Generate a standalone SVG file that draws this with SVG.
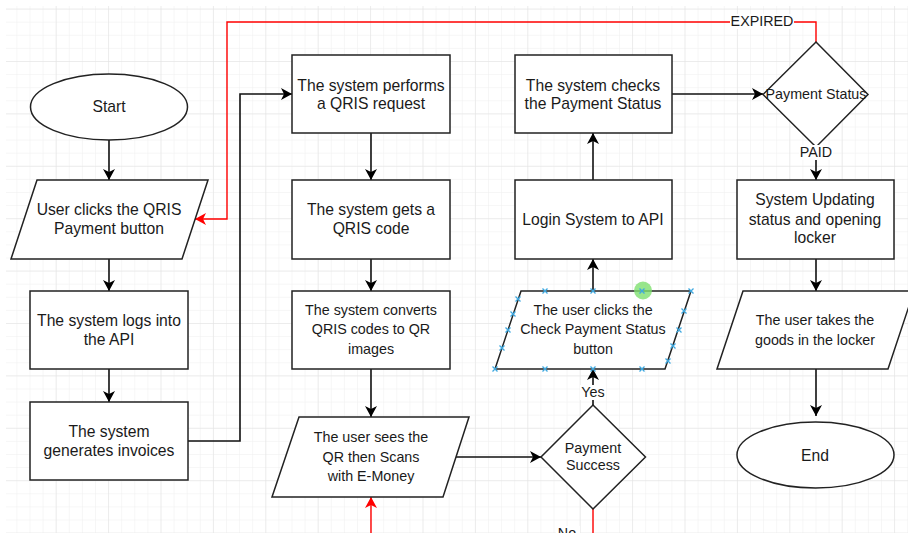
<svg xmlns="http://www.w3.org/2000/svg" width="908" height="533" viewBox="0 0 908 533">
<style>
text{font-family:"Liberation Sans",Arial,sans-serif;font-size:15.7px;fill:#1a1a1a;text-anchor:middle}
.s{font-size:14.3px}
.n{fill:#fff;stroke:#222;stroke-width:1.5}
.c{fill:none;stroke:#111;stroke-width:1.6}
.r{fill:none;stroke:#f00;stroke-width:1.4}
.x{stroke:#3fa9e0;stroke-width:1.3;fill:none}
</style>
<defs>
<pattern id="gm" x="3.3" y="8.6" width="13.1" height="13.1" patternUnits="userSpaceOnUse"><path d="M0 0V13.1M0 0H13.1" fill="none" stroke="#eeeeee" stroke-width="1"/></pattern>
<pattern id="gM" x="3.3" y="8.6" width="52.4" height="52.4" patternUnits="userSpaceOnUse"><path d="M0 0V52.4M0 0H52.4" fill="none" stroke="#e2e2e2" stroke-width="1"/></pattern>
<marker id="a" markerUnits="userSpaceOnUse" markerWidth="14" markerHeight="14" refX="11" refY="6" orient="auto"><path d="M0 0L11 6L0 12L3 6Z" fill="#000"/></marker>
<marker id="ar" markerUnits="userSpaceOnUse" markerWidth="14" markerHeight="14" refX="11" refY="6" orient="auto"><path d="M0 0L11 6L0 12L3 6Z" fill="#f00"/></marker>
<path id="m" d="M-2.500-2.500L2.500 2.500M-2.500 2.500L2.500-2.500" class="x"/>
</defs>
<rect width="908" height="533" fill="#fff"/>
<rect x="6" y="6" width="902" height="527" fill="url(#gm)"/>
<rect x="6" y="6" width="902" height="527" fill="url(#gM)"/>
<g id="connectors">
<path class="c" marker-end="url(#a)" d="M109 140V180"/>
<path class="c" marker-end="url(#a)" d="M109 259V291"/>
<path class="c" marker-end="url(#a)" d="M109 369V402"/>
<path class="c" marker-end="url(#a)" d="M188 441H240V94H292"/>
<path class="c" marker-end="url(#a)" d="M371 133V180"/>
<path class="c" marker-end="url(#a)" d="M371 259V291"/>
<path class="c" marker-end="url(#a)" d="M371 369V417"/>
<path class="c" marker-end="url(#a)" d="M456 457H541"/>
<path class="c" marker-end="url(#a)" d="M593 405V369"/>
<path class="c" marker-end="url(#a)" d="M593 291V259"/>
<path class="c" marker-end="url(#a)" d="M593 180V133"/>
<path class="c" marker-end="url(#a)" d="M672 94H763"/>
<path class="c" marker-end="url(#a)" d="M816 147V180"/>
<path class="c" marker-end="url(#a)" d="M816 259V291"/>
<path class="c" marker-end="url(#a)" d="M816 369V416"/>
<path class="r" marker-end="url(#ar)" d="M816 42V22H227V219H195"/>
<path class="r" marker-end="url(#ar)" d="M371 533V497"/>
<path class="r" d="M593 509V533"/>
</g>
<g id="start"><ellipse class="n" cx="109" cy="107" rx="78.500" ry="33"/><text x="109" y="112">Start</text></g>
<g id="click-qris"><path class="n" d="M37 180H208L182 259H11Z"/><text x="109" y="215">User clicks the QRIS</text><text x="109" y="233.500">Payment button</text></g>
<g id="logs-api"><rect class="n" x="30" y="291" width="158" height="78"/><text x="109" y="325.500">The system logs into</text><text x="109" y="344.500">the API</text></g>
<g id="invoices"><rect class="n" x="30" y="402" width="158" height="78"/><text x="109" y="437">The system</text><text x="109" y="455.500">generates invoices</text></g>
<g id="qris-request"><rect class="n" x="292" y="55" width="158" height="78"/><text x="371" y="91">The system performs</text><text x="371" y="109">a QRIS request</text></g>
<g id="qris-code"><rect class="n" x="292" y="180" width="158" height="79"/><text x="371" y="214.500">The system gets a</text><text x="371" y="233.500">QRIS code</text></g>
<g id="convert"><rect class="n" x="292" y="291" width="158" height="78"/><text class="s" x="371" y="315">The system converts</text><text class="s" x="371" y="334">QRIS codes to QR</text><text class="s" x="371" y="354">images</text></g>
<g id="scan"><path class="n" d="M299 417H469L443 497H272Z"/><text class="s" x="371" y="442">The user sees the</text><text class="s" x="371" y="462">QR then Scans</text><text class="s" x="371" y="481">with E-Money</text></g>
<g id="payment-success"><path class="n" d="M593 405L645.500 457L593 509L541 457Z"/><text class="s" x="593" y="453">Payment</text><text class="s" x="593" y="470">Success</text></g>
<g id="check-button"><path class="n" d="M521 291H691L665 369H495Z"/><text class="s" x="593" y="315">The user clicks the</text><text class="s" x="593" y="334">Check Payment Status</text><text class="s" x="593" y="354">button</text>
<circle cx="643" cy="290.500" r="9" fill="#7ee06f" fill-opacity=".8"/>
<g><use href="#m" x="545" y="291"/><use href="#m" x="593" y="291"/><use href="#m" x="642" y="291"/><use href="#m" x="691" y="291"/><use href="#m" x="495" y="369"/><use href="#m" x="545" y="369"/><use href="#m" x="593" y="369"/><use href="#m" x="642" y="369"/><use href="#m" x="518" y="299"/><use href="#m" x="513" y="314"/><use href="#m" x="508" y="330"/><use href="#m" x="502" y="348"/><use href="#m" x="684" y="311"/><use href="#m" x="679" y="330"/><use href="#m" x="673" y="346"/><use href="#m" x="668" y="361"/></g></g>
<g id="login"><rect class="n" x="515" y="180" width="157" height="79"/><text x="593" y="224.500">Login System to API</text></g>
<g id="check-status"><rect class="n" x="515" y="55" width="157" height="78"/><text x="593" y="91">The system checks</text><text x="593" y="109">the Payment Status</text></g>
<g id="payment-status"><path class="n" d="M816 42L868 94.500L816 147L763 94.500Z"/><text class="s" x="816" y="99">Payment Status</text></g>
<g id="updating"><rect class="n" x="737" y="180" width="157" height="79"/><text x="815" y="205">System Updating</text><text x="815" y="224.500">status and opening</text><text x="815" y="243">locker</text></g>
<g id="take-goods"><path class="n" d="M743 291H914L888 369H717Z"/><text class="s" x="815" y="325">The user takes the</text><text class="s" x="815" y="345">goods in the locker</text></g>
<g id="end"><ellipse class="n" cx="815.500" cy="455" rx="78.500" ry="33"/><text x="815" y="461">End</text></g>
<g id="labels">
<rect x="730" y="14" width="64" height="15" fill="#fff"/><text class="s" x="762" y="26">EXPIRED</text>
<rect x="799" y="145" width="34" height="15" fill="#fff"/><text class="s" x="816" y="157">PAID</text>
<rect x="580" y="385" width="26" height="15" fill="#fff"/><text class="s" x="593" y="397">Yes</text>
<rect x="556" y="526" width="24" height="7" fill="#fff"/><text class="s" x="567" y="538">No</text>
</g>
</svg>
